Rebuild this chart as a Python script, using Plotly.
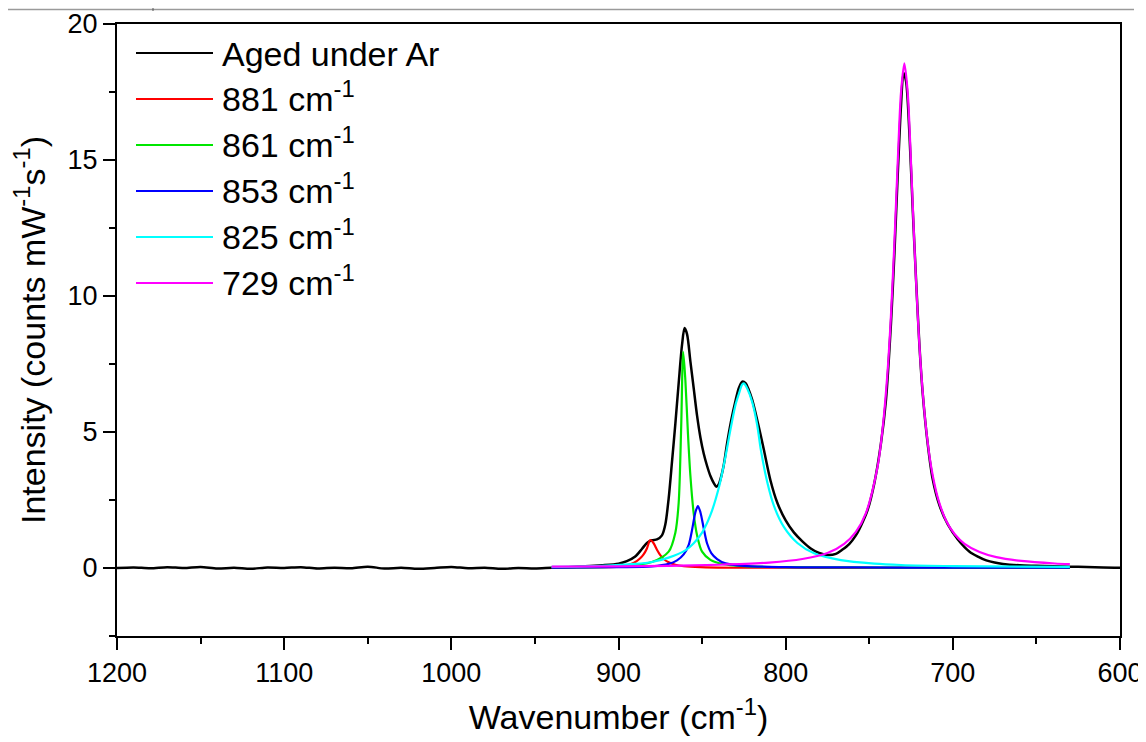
import plotly.graph_objects as go

# ---------------- data ----------------
wn_total = [1200, 1190, 1180, 1170, 1160, 1150, 1140, 1130, 1120, 1110, 1100, 1090, 1080, 1070,
            1060, 1050, 1040, 1030, 1020, 1010, 1000, 990, 980, 970, 960, 950, 940, 930, 920,
            910, 900, 895, 890, 886, 883, 880, 877, 874, 872, 870, 868, 866, 864, 862, 860.5,
            859, 857, 855, 853, 851, 849, 847, 845, 843, 841.5, 840, 838.5, 837, 835, 832.5, 830,
            828, 826, 824, 822, 820, 818, 815, 813, 809, 805, 800, 795, 790, 785, 780, 775,
            770, 766, 762, 758, 755, 751, 747, 743, 740, 737, 735, 733, 731, 729.5, 728, 726,
            724, 722, 720, 718, 715, 712, 708, 703, 697, 690, 685, 680, 675, 670, 660, 650,
            640, 630, 620, 610, 600]
int_total = [0.00, 0.02, -0.01, 0.03, 0.00, 0.04, -0.02, 0.01, -0.03, 0.02, 0.00, 0.03, -0.02, 0.01,
             -0.01, 0.05, -0.02, 0.01, -0.03, 0.00, 0.04, -0.01, 0.01, -0.03, 0.00, -0.02, 0.01, 0.03, 0.06,
             0.10, 0.16, 0.25, 0.42, 0.70, 0.92, 1.02, 1.05, 1.20, 1.60, 2.55, 3.90, 5.30, 6.80, 8.20, 8.82,
             8.60, 7.60, 6.60, 5.60, 4.80, 4.20, 3.75, 3.38, 3.12, 2.99, 3.08, 3.38, 3.80, 4.60, 5.45, 6.15,
             6.62, 6.85, 6.80, 6.54, 6.18, 5.70, 4.90, 4.34, 3.20, 2.40, 1.75, 1.30, 0.98, 0.72, 0.55, 0.48,
             0.52, 0.68, 0.88, 1.20, 1.55, 2.13, 3.11, 4.58, 6.18, 9.00, 11.50, 14.40, 17.00, 18.20, 17.90, 16.00,
             13.20, 10.60, 8.20, 6.40, 4.55, 3.25, 2.30, 1.60, 1.05, 0.60, 0.42, 0.28, 0.20, 0.15, 0.10, 0.08,
             0.06, 0.05, 0.04, 0.02, 0.01]

wn_881 = [940, 910, 900, 895, 891, 887, 885, 883, 881, 879, 877, 875, 873, 870, 866, 861, 851, 831, 800, 760, 700, 630]
int_881 = [0.01, 0.03, 0.05, 0.10, 0.18, 0.36, 0.50, 0.72, 1.03, 0.91, 0.67, 0.47, 0.33, 0.21, 0.12, 0.07, 0.03, 0.01, 0.01, 0.0, 0.0, 0.0]

wn_861 = [940, 900, 880, 870, 866, 864, 862.5, 861.3, 860, 858.5, 857, 855, 853, 850, 845, 838, 825, 800, 760, 700, 630]
int_861 = [0.02, 0.06, 0.22, 0.60, 1.30, 2.40, 5.20, 7.95, 6.90, 5.00, 3.40, 2.00, 1.20, 0.60, 0.30, 0.15, 0.07, 0.03, 0.02, 0.01, 0.01]

wn_853 = [940, 900, 880, 870, 865, 861, 858, 856, 854, 852.5, 851, 849, 847, 844.5, 841, 836, 825, 800, 760, 700, 630]
int_853 = [0.01, 0.03, 0.06, 0.15, 0.28, 0.50, 0.85, 1.40, 2.05, 2.28, 2.05, 1.45, 0.90, 0.55, 0.33, 0.17, 0.08, 0.03, 0.02, 0.01, 0.01]

wn_825 = [940, 910, 890, 880, 870, 860, 855, 850, 845, 840, 836, 833, 830, 828, 826, 825, 823, 820, 817,
          815, 811, 807, 801, 793, 783, 767, 747, 731, 700, 660, 630]
int_825 = [0.04, 0.08, 0.15, 0.22, 0.38, 0.65, 0.91, 1.30, 1.95, 2.95, 4.10, 5.10, 6.00, 6.40, 6.75, 6.79, 6.60, 6.10, 5.25,
           4.40, 3.15, 2.28, 1.50, 0.92, 0.54, 0.29, 0.16, 0.11, 0.07, 0.05, 0.04]

wn_729 = [940, 900, 870, 840, 810, 790, 775, 765, 758, 752, 745, 742, 739, 737, 735, 733, 731, 729, 727,
          725, 723, 721, 719, 716, 713, 709, 704, 699, 693, 684, 674, 659, 639, 630]
int_729 = [0.05, 0.06, 0.08, 0.12, 0.20, 0.33, 0.55, 0.89, 1.33, 2.02, 3.73, 5.12, 7.26, 9.30, 11.89, 14.86, 17.48, 18.55, 17.48,
           14.86, 11.89, 9.30, 7.26, 5.12, 3.73, 2.58, 1.74, 1.25, 0.89, 0.59, 0.40, 0.26, 0.165, 0.14]

series_names = ["Aged under Ar", "881 cm<sup>-1</sup>", "861 cm<sup>-1</sup>", "853 cm<sup>-1</sup>",
                "825 cm<sup>-1</sup>", "729 cm<sup>-1</sup>"]
series_colors = ["#000000", "#FF0000", "#00E600", "#0000FF", "#00FFFF", "#FF00FF"]

x_ticks = [1200, 1100, 1000, 900, 800, 700, 600]
y_ticks = [0, 5, 10, 15, 20]
x_range = [1200, 600]
y_range = [-2.5, 20]

FONT = "Liberation Sans, Arial, sans-serif"

# ---------------- figure ----------------
# the page body adds an 8 px offset, so the figure is made 8 px smaller
OFF = 8
W, H = 1146 - OFF, 742 - OFF
L, R, T, B = 117 - OFF, 26, 24 - OFF, 106
PW, PH = W - L - R, H - T - B
SCR_LEFT, SCR_BOTTOM = L + OFF, H - B + OFF   # plot edges in screen pixels

fig = go.Figure()
series = [(wn_total, int_total), (wn_881, int_881), (wn_861, int_861), (wn_853, int_853),
          (wn_825, int_825), (wn_729, int_729)]
for i, ((xs, ys), name, col) in enumerate(zip(series, series_names, series_colors)):
    fig.add_trace(go.Scatter(x=xs, y=ys, mode="lines", name=name,
                             line=dict(color=col, width=2.5 if i == 0 else 2.2,
                                       shape="spline", smoothing=0.8),
                             showlegend=False, hoverinfo="skip"))

def px_x(px):
    return (px - SCR_LEFT) / PW

def px_y(py):
    return (SCR_BOTTOM - py) / PH

# manual legend (long line samples like the original)
leg_y = [53, 99, 145, 191, 237, 283]
shapes = []
annotations = []
for i, (yy, name, col) in enumerate(zip(leg_y, series_names, series_colors)):
    shapes.append(dict(type="line", xref="paper", yref="paper",
                       x0=px_x(136), x1=px_x(213), y0=px_y(yy), y1=px_y(yy),
                       line=dict(color=col, width=2.2)))
    annotations.append(dict(xref="paper", yref="paper", x=px_x(220), y=px_y(yy + (1 if i == 0 else -3)),
                            xanchor="left", yanchor="middle", showarrow=False,
                            text=name, font=dict(family=FONT, size=34, color="#000")))

# thin grey frame remnant at the very top of the screenshot
shapes.append(dict(type="line", xref="paper", yref="paper", x0=px_x(OFF), x1=px_x(1134),
                   y0=px_y(9.5), y1=px_y(9.5), line=dict(color="#9a9a9a", width=1.5)))
shapes.append(dict(type="line", xref="paper", yref="paper", x0=px_x(153), x1=px_x(153),
                   y0=px_y(OFF), y1=px_y(11), line=dict(color="#555", width=1)))

fig.update_layout(
    width=W, height=H,
    margin=dict(l=L, r=R, t=T, b=B, pad=0, autoexpand=False),
    paper_bgcolor="white", plot_bgcolor="white",
    font=dict(family=FONT, color="#000"),
    showlegend=False,
    shapes=shapes,
    annotations=annotations,
    xaxis=dict(
        range=x_range, tickmode="array", tickvals=x_ticks, ticktext=[str(v) for v in x_ticks],
        ticks="outside", ticklen=12, tickwidth=2, tickcolor="#000",
        minor=dict(dtick=50, ticks="outside", ticklen=6, tickwidth=2, tickcolor="#000", showgrid=False),
        showline=True, linewidth=2, linecolor="#000", mirror=True,
        showgrid=False, zeroline=False, automargin=False,
        tickfont=dict(family=FONT, size=27, color="#000"),
        title=dict(text="Wavenumber (cm<sup>-1</sup>)", font=dict(family=FONT, size=34, color="#000"),
                   standoff=18),
    ),
    yaxis=dict(
        range=y_range, tickmode="array", tickvals=y_ticks, ticktext=[str(v) for v in y_ticks],
        ticks="outside", ticklen=12, tickwidth=2, tickcolor="#000",
        minor=dict(dtick=2.5, tick0=0, ticks="outside", ticklen=6, tickwidth=2, tickcolor="#000", showgrid=False),
        showline=True, linewidth=2, linecolor="#000", mirror=True,
        showgrid=False, zeroline=False, automargin=False,
        tickfont=dict(family=FONT, size=27, color="#000"),
        title=dict(text="Intensity (counts mW<sup>-1</sup>s<sup>-1</sup>)",
                   font=dict(family=FONT, size=34, color="#000"), standoff=12),
    ),
)

fig.write_html("out.html")
